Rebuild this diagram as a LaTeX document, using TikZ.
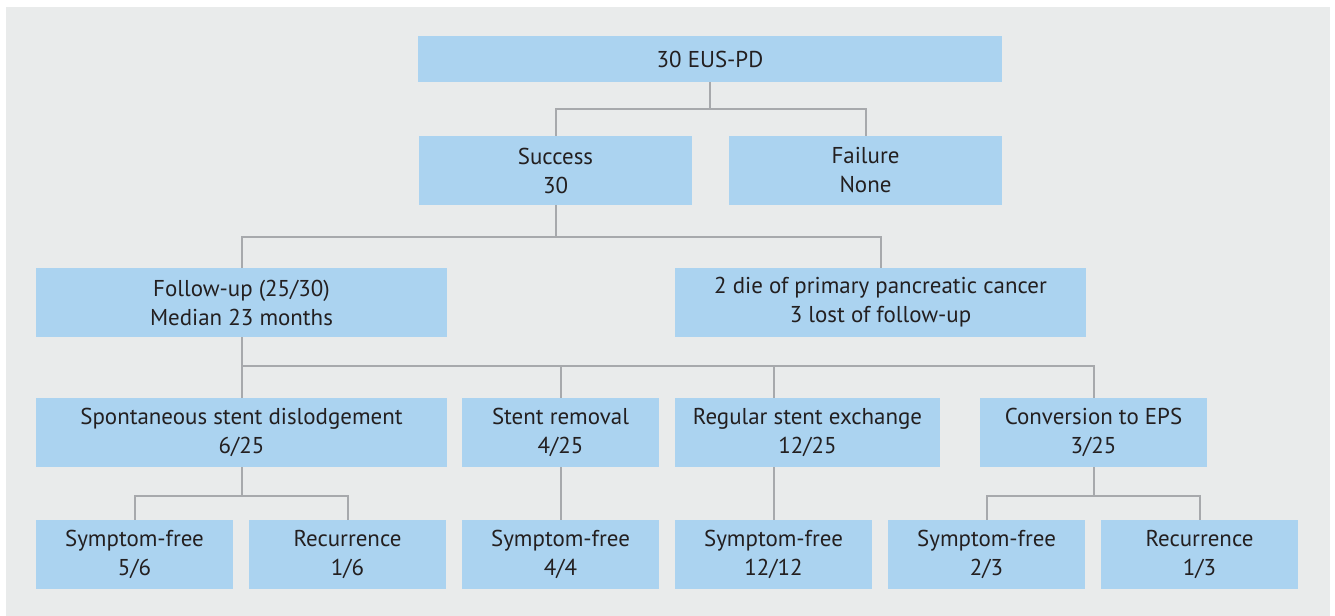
\documentclass[tikz,border=0pt]{standalone}
\usepackage{fontspec}
\setmainfont{PT Sans}
\definecolor{bg}{HTML}{E9EBEB}
\definecolor{boxc}{HTML}{ABD3F0}
\definecolor{linec}{HTML}{A7A9AC}
\definecolor{txt}{HTML}{231F20}
\newcommand\bx[6]{\node[box,minimum width={(#4-#2)*0.75pt},minimum height={(#5-#3)*0.75pt}] (#1) at ({(#2+#4)/2},{(#3+#5)/2}) {#6};}
\begin{document}
\begin{tikzpicture}[x=0.75pt,y=-0.75pt,
 box/.style={fill=boxc,inner sep=0pt,text=txt,align=center,font=\fontsize{17.2}{21.75}\selectfont},
 conn/.style={draw=linec,line width=1.5pt}]
\useasboundingbox (0,0) rectangle (1335,616);
\fill[bg] (6,7) rectangle (1330,616);
% row 1
\bx{top}{418}{36}{1002}{82}{30 EUS-PD}
% row 2
\bx{succ}{419}{136}{692}{205}{Success\\30}
\bx{fail}{729}{136}{1002}{205}{Failure\\None}
% row 3
\bx{fu}{36}{268}{447}{337}{Follow-up (25/30)\\Median 23 months}
\bx{die}{675}{268}{1086}{337}{2 die of primary pancreatic cancer\\3 lost of follow-up}
% row 4
\bx{spon}{36}{398}{447}{467}{Spontaneous stent dislodgement\\6/25}
\bx{rem}{462}{398}{659}{467}{Stent removal\\4/25}
\bx{reg}{675}{398}{940}{467}{Regular stent exchange\\12/25}
\bx{conv}{980}{398}{1207}{467}{Conversion to EPS\\3/25}
% row 5
\bx{sfa}{36}{520}{233}{589}{Symptom-free\\5/6}
\bx{reca}{249}{520}{446}{589}{Recurrence\\1/6}
\bx{sfb}{462}{520}{659}{589}{Symptom-free\\4/4}
\bx{sfc}{675}{520}{872}{589}{Symptom-free\\12/12}
\bx{sfd}{888}{520}{1085}{589}{Symptom-free\\2/3}
\bx{recd}{1101}{520}{1298}{589}{Recurrence\\1/3}
% junction levels
\coordinate (j1) at (710,109);
\coordinate (j2) at (558,237);
\coordinate (j3) at (240,366);
\coordinate (j4) at (240,496);
% connectors
\draw[conn] (top.south) -- (top.south |- j1);
\draw[conn] (succ.north) -- (succ.north |- j1) -- (fail.north |- j1) -- (fail.north);
\draw[conn] (succ.south) -- (succ.south |- j2);
\draw[conn] (fu.north) -- (fu.north |- j2) -- (die.north |- j2) -- (die.north);
\draw[conn] (fu.south) -- (fu.south |- j3);
\draw[conn] (spon.north) -- (spon.north |- j3) -- (conv.north |- j3) -- (conv.north);
\draw[conn] (rem.north) -- (rem.north |- j3);
\draw[conn] (reg.north -| sfc.north) -- (sfc.north |- j3);
\draw[conn] (spon.south) -- (spon.south |- j4);
\draw[conn] (sfa.north) -- (sfa.north |- j4) -- (reca.north |- j4) -- (reca.north);
\draw[conn] (rem.south) -- (sfb.north);
\draw[conn] (reg.south -| sfc.north) -- (sfc.north);
\draw[conn] (conv.south) -- (conv.south |- j4);
\draw[conn] (sfd.north) -- (sfd.north |- j4) -- (recd.north |- j4) -- (recd.north);
\end{tikzpicture}
\end{document}
